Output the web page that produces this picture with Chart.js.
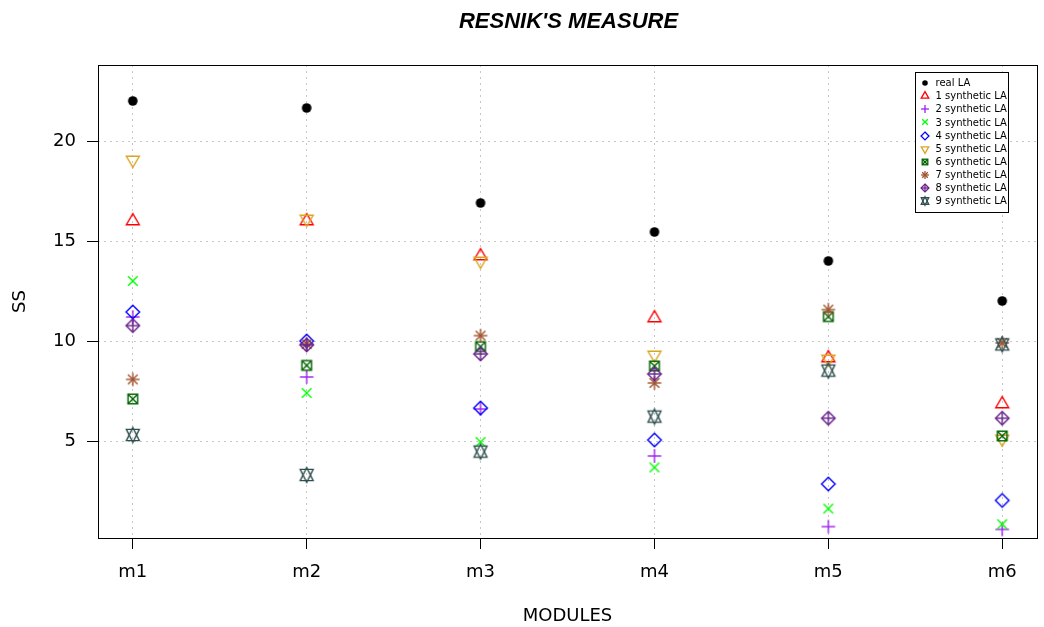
<!DOCTYPE html>
<html>
<head>
<meta charset="utf-8">
<script src="https://cdn.jsdelivr.net/npm/chart.js@4.4.0/dist/chart.umd.min.js"></script>
<style>
  html, body { margin: 0; padding: 0; background: #ffffff; }
  #wrap { width: 1044px; height: 627px; }
</style>
</head>
<body>
<div id="wrap"><canvas id="c" width="1044" height="627"></canvas></div>
<script>
// ---- data ----
const modules = ['m1', 'm2', 'm3', 'm4', 'm5', 'm6'];
const yTicks = [5, 10, 15, 20];
const seriesNames = ['real LA', '1 synthetic LA', '2 synthetic LA', '3 synthetic LA', '4 synthetic LA',
  '5 synthetic LA', '6 synthetic LA', '7 synthetic LA', '8 synthetic LA', '9 synthetic LA'];
const realLA = [22.0, 21.65, 16.9, 15.45, 14.0, 12.0];
const syn1 = [16.0, 16.0, 14.25, 11.15, 9.15, 6.85];
const syn2 = [11.2, 8.2, 6.6, 4.25, 0.72, 0.58];
const syn3 = [13.0, 7.4, 4.95, 3.68, 1.62, 0.84];
const syn4 = [11.45, 10.0, 6.65, 5.05, 2.85, 2.03];
const syn5 = [19.05, 16.1, 14.0, 9.3, 9.1, 5.1];
const syn6 = [7.1, 8.78, 9.72, 8.75, 11.22, 5.25];
const syn7 = [8.08, 9.85, 10.27, 7.9, 11.57, 9.9];
const syn8 = [10.77, 9.8, 9.35, 8.35, 6.14, 6.14];
const syn9 = [5.3, 3.3, 4.47, 6.22, 8.52, 9.83];

const seriesValues = [realLA, syn1, syn2, syn3, syn4, syn5, syn6, syn7, syn8, syn9];
const seriesColors = ['#000000', '#FF0000', '#A020F0', '#00FF00', '#0000FF',
  '#DAA520', '#006400', '#A0522D', '#68228B', '#2F4F4F'];
const seriesShapes = ['dot', 'tri', 'plus', 'x', 'diamond', 'tridown', 'sqx', 'ast', 'diaplus', 'david'];

// ---- marker drawing (R-like plotting symbols) ----
function makeMarker(kind, color, s, lw) {
  const R0 = 4.8 * s;
  const size = Math.ceil(R0 * 4) + 4;
  const cv = document.createElement('canvas');
  cv.width = size; cv.height = size;
  const g = cv.getContext('2d');
  const c = size / 2;
  g.strokeStyle = color; g.fillStyle = color;
  g.lineWidth = lw;
  g.lineJoin = 'miter';
  const line = (x1, y1, x2, y2) => { g.beginPath(); g.moveTo(c + x1, c + y1); g.lineTo(c + x2, c + y2); g.stroke(); };
  const poly = (pts) => { g.beginPath(); g.moveTo(c + pts[0][0], c + pts[0][1]); for (let i = 1; i < pts.length; i++) g.lineTo(c + pts[i][0], c + pts[i][1]); g.closePath(); g.stroke(); };
  const r = 1.555 * R0, yc = 0.778 * R0, h = 1.347 * R0, a = 1.414 * R0;
  switch (kind) {
    case 'dot':
      g.beginPath(); g.arc(c, c, R0, 0, Math.PI * 2); g.fill(); break;
    case 'tri':
      poly([[0, -r], [h, yc], [-h, yc]]); break;
    case 'tridown':
      poly([[0, r], [h, -yc], [-h, -yc]]); break;
    case 'plus':
      line(-a, 0, a, 0); line(0, -a, 0, a); break;
    case 'x':
      line(-R0, -R0, R0, R0); line(-R0, R0, R0, -R0); break;
    case 'diamond':
      poly([[0, -a], [a, 0], [0, a], [-a, 0]]); break;
    case 'sqx':
      g.strokeRect(c - R0, c - R0, 2 * R0, 2 * R0);
      line(-R0, -R0, R0, R0); line(-R0, R0, R0, -R0); break;
    case 'ast':
      line(-R0, -R0, R0, R0); line(-R0, R0, R0, -R0);
      line(-a, 0, a, 0); line(0, -a, 0, a); break;
    case 'diaplus':
      poly([[0, -a], [a, 0], [0, a], [-a, 0]]);
      line(-a, 0, a, 0); line(0, -a, 0, a); break;
    case 'david': {
      const y2 = 0.5 * (yc + r);
      poly([[0, r], [h, -y2], [-h, -y2]]);
      poly([[0, -r], [h, y2], [-h, y2]]);
      break;
    }
  }
  return cv;
}

const plotMarkers = seriesShapes.map((k, i) => makeMarker(k, seriesColors[i], 1, 1.4));
const legendMarkers = seriesShapes.map((k, i) => makeMarker(k, seriesColors[i], 0.58, 1.3));

const datasets = seriesNames.map((name, i) => ({
  label: name,
  data: modules.map((m, j) => ({ x: j + 1, y: seriesValues[i][j] })),
  pointStyle: plotMarkers[i],
  pointRadius: 6,
  showLine: false,
  borderColor: seriesColors[i],
  backgroundColor: seriesColors[i],
  order: seriesNames.length - i
}));

// ---- plugins: frame, title, legend ----
const framePlugin = {
  id: 'frame',
  afterDraw(chart) {
    const { ctx, chartArea: ca } = chart;
    ctx.save();
    ctx.strokeStyle = '#000000';
    ctx.lineWidth = 1;
    ctx.strokeRect(Math.round(ca.left) + 0.5, Math.round(ca.top) + 0.5,
      Math.round(ca.right - ca.left), Math.round(ca.bottom - ca.top));
    // title
    ctx.fillStyle = '#000000';
    ctx.font = 'italic bold 22px "Liberation Sans", Arial, sans-serif';
    ctx.textAlign = 'center';
    ctx.textBaseline = 'alphabetic';
    ctx.fillText("RESNIK'S MEASURE", (ca.left + ca.right) / 2 + 1, 28);
    // legend box
    const lw = 93, lh = 140;
    const lx = Math.round(ca.right) - 29 - lw, ly = Math.round(ca.top) + 7;
    ctx.fillStyle = '#ffffff';
    ctx.fillRect(lx, ly, lw, lh);
    ctx.strokeStyle = '#000000';
    ctx.strokeRect(lx + 0.5, ly + 0.5, lw, lh);
    ctx.font = '10px "DejaVu Sans", sans-serif';
    ctx.textAlign = 'left';
    ctx.textBaseline = 'middle';
    ctx.fillStyle = '#000000';
    chart.data.datasets.forEach((ds, i) => {
      const yy = ly + 11 + i * 13.15;
      const mk = legendMarkers[i];
      ctx.drawImage(mk, Math.round(lx + 10 - mk.width / 2), Math.round(yy - mk.height / 2));
      ctx.fillText(ds.label, lx + 20.5, yy + 0.5);
    });
    ctx.restore();
  }
};

const tickFont = { family: '"DejaVu Sans", sans-serif', size: 18 };

new Chart(document.getElementById('c'), {
  type: 'scatter',
  data: { datasets },
  plugins: [framePlugin],
  options: {
    responsive: false,
    animation: false,
    events: [],
    layout: { padding: { top: 65, right: 6, bottom: 0, left: 0 } },
    plugins: {
      legend: { display: false },
      title: { display: false },
      tooltip: { enabled: false }
    },
    scales: {
      x: {
        type: 'linear',
        min: 0.8, max: 6.2,
        afterFit(scale) { scale.height = 89; },
        afterBuildTicks(scale) { scale.ticks = modules.map((m, i) => ({ value: i + 1 })); },
        ticks: {
          autoSkip: false, maxRotation: 0,
          color: '#000000', font: tickFont, padding: 13,
          callback: (v) => modules[Math.round(v) - 1]
        },
        grid: { color: '#c8c8c8', lineWidth: 1, tickLength: 11, tickColor: '#000000', tickWidth: 1 },
        border: { display: false, dash: [2, 4] },
        title: { display: true, text: 'MODULES', color: '#000000', font: tickFont, padding: { top: 2, bottom: 0 } }
      },
      y: {
        type: 'linear',
        min: 0.15, max: 23.8,
        afterFit(scale) { scale.width = 98; },
        afterBuildTicks(scale) { scale.ticks = yTicks.map(v => ({ value: v })); },
        ticks: { color: '#000000', font: tickFont, padding: 11 },
        grid: { color: '#c8c8c8', lineWidth: 1, tickLength: 11, tickColor: '#000000', tickWidth: 1 },
        border: { display: false, dash: [2, 4] },
        title: { display: true, text: 'SS', color: '#000000', font: tickFont, padding: { top: 10, bottom: 0 } }
      }
    }
  }
});
</script>
</body>
</html>
